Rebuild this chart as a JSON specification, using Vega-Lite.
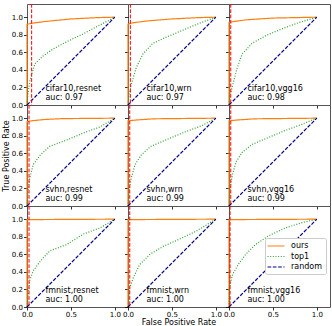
{
"$schema": "https://vega.github.io/schema/vega-lite/v6.json",
"padding": {"left": 1, "top": 3, "right": 1, "bottom": 0},
"bounds": "flush",
"spacing": 0,
"columns": 3,
"datasets": {
"curves": [
{"panel":"cifar10,resnet","series":"ours","fpr":0,"tpr":0},{"panel":"cifar10,resnet","series":"ours","fpr":0,"tpr":0.92},{"panel":"cifar10,resnet","series":"ours","fpr":0.05,"tpr":0.93},{"panel":"cifar10,resnet","series":"ours","fpr":0.2,"tpr":0.95},{"panel":"cifar10,resnet","series":"ours","fpr":0.5,"tpr":0.98},{"panel":"cifar10,resnet","series":"ours","fpr":0.8,"tpr":0.995},{"panel":"cifar10,resnet","series":"ours","fpr":1,"tpr":1},
{"panel":"cifar10,resnet","series":"top1","fpr":0,"tpr":0},{"panel":"cifar10,resnet","series":"top1","fpr":0.01,"tpr":0.12},{"panel":"cifar10,resnet","series":"top1","fpr":0.034,"tpr":0.28},{"panel":"cifar10,resnet","series":"top1","fpr":0.09,"tpr":0.47},{"panel":"cifar10,resnet","series":"top1","fpr":0.185,"tpr":0.56},{"panel":"cifar10,resnet","series":"top1","fpr":0.3,"tpr":0.64},{"panel":"cifar10,resnet","series":"top1","fpr":0.45,"tpr":0.72},{"panel":"cifar10,resnet","series":"top1","fpr":0.64,"tpr":0.81},{"panel":"cifar10,resnet","series":"top1","fpr":0.83,"tpr":0.91},{"panel":"cifar10,resnet","series":"top1","fpr":1,"tpr":1},
{"panel":"cifar10,resnet","series":"random","fpr":0,"tpr":0},{"panel":"cifar10,resnet","series":"random","fpr":1,"tpr":1},

{"panel":"cifar10,wrn","series":"ours","fpr":0,"tpr":0},{"panel":"cifar10,wrn","series":"ours","fpr":0,"tpr":0.92},{"panel":"cifar10,wrn","series":"ours","fpr":0.05,"tpr":0.935},{"panel":"cifar10,wrn","series":"ours","fpr":0.2,"tpr":0.955},{"panel":"cifar10,wrn","series":"ours","fpr":0.5,"tpr":0.98},{"panel":"cifar10,wrn","series":"ours","fpr":0.8,"tpr":0.995},{"panel":"cifar10,wrn","series":"ours","fpr":1,"tpr":1},
{"panel":"cifar10,wrn","series":"top1","fpr":0,"tpr":0},{"panel":"cifar10,wrn","series":"top1","fpr":0.01,"tpr":0.1},{"panel":"cifar10,wrn","series":"top1","fpr":0.04,"tpr":0.24},{"panel":"cifar10,wrn","series":"top1","fpr":0.095,"tpr":0.43},{"panel":"cifar10,wrn","series":"top1","fpr":0.17,"tpr":0.58},{"panel":"cifar10,wrn","series":"top1","fpr":0.28,"tpr":0.7},{"panel":"cifar10,wrn","series":"top1","fpr":0.43,"tpr":0.77},{"panel":"cifar10,wrn","series":"top1","fpr":0.62,"tpr":0.85},{"panel":"cifar10,wrn","series":"top1","fpr":0.81,"tpr":0.93},{"panel":"cifar10,wrn","series":"top1","fpr":1,"tpr":1},
{"panel":"cifar10,wrn","series":"random","fpr":0,"tpr":0},{"panel":"cifar10,wrn","series":"random","fpr":1,"tpr":1},

{"panel":"cifar10,vgg16","series":"ours","fpr":0,"tpr":0},{"panel":"cifar10,vgg16","series":"ours","fpr":0,"tpr":0.94},{"panel":"cifar10,vgg16","series":"ours","fpr":0.05,"tpr":0.95},{"panel":"cifar10,vgg16","series":"ours","fpr":0.2,"tpr":0.97},{"panel":"cifar10,vgg16","series":"ours","fpr":0.5,"tpr":0.99},{"panel":"cifar10,vgg16","series":"ours","fpr":1,"tpr":1},
{"panel":"cifar10,vgg16","series":"top1","fpr":0,"tpr":0},{"panel":"cifar10,vgg16","series":"top1","fpr":0.01,"tpr":0.1},{"panel":"cifar10,vgg16","series":"top1","fpr":0.04,"tpr":0.22},{"panel":"cifar10,vgg16","series":"top1","fpr":0.095,"tpr":0.43},{"panel":"cifar10,vgg16","series":"top1","fpr":0.15,"tpr":0.58},{"panel":"cifar10,vgg16","series":"top1","fpr":0.26,"tpr":0.7},{"panel":"cifar10,vgg16","series":"top1","fpr":0.42,"tpr":0.79},{"panel":"cifar10,vgg16","series":"top1","fpr":0.61,"tpr":0.87},{"panel":"cifar10,vgg16","series":"top1","fpr":0.8,"tpr":0.94},{"panel":"cifar10,vgg16","series":"top1","fpr":1,"tpr":1},
{"panel":"cifar10,vgg16","series":"random","fpr":0,"tpr":0},{"panel":"cifar10,vgg16","series":"random","fpr":1,"tpr":1},

{"panel":"svhn,resnet","series":"ours","fpr":0,"tpr":0},{"panel":"svhn,resnet","series":"ours","fpr":0,"tpr":0.96},{"panel":"svhn,resnet","series":"ours","fpr":0.05,"tpr":0.97},{"panel":"svhn,resnet","series":"ours","fpr":0.2,"tpr":0.985},{"panel":"svhn,resnet","series":"ours","fpr":0.4,"tpr":0.995},{"panel":"svhn,resnet","series":"ours","fpr":1,"tpr":1},
{"panel":"svhn,resnet","series":"top1","fpr":0,"tpr":0},{"panel":"svhn,resnet","series":"top1","fpr":0.015,"tpr":0.2},{"panel":"svhn,resnet","series":"top1","fpr":0.03,"tpr":0.31},{"panel":"svhn,resnet","series":"top1","fpr":0.07,"tpr":0.47},{"panel":"svhn,resnet","series":"top1","fpr":0.15,"tpr":0.58},{"panel":"svhn,resnet","series":"top1","fpr":0.26,"tpr":0.68},{"panel":"svhn,resnet","series":"top1","fpr":0.45,"tpr":0.75},{"panel":"svhn,resnet","series":"top1","fpr":0.64,"tpr":0.83},{"panel":"svhn,resnet","series":"top1","fpr":0.83,"tpr":0.9},{"panel":"svhn,resnet","series":"top1","fpr":1,"tpr":1},
{"panel":"svhn,resnet","series":"random","fpr":0,"tpr":0},{"panel":"svhn,resnet","series":"random","fpr":1,"tpr":1},

{"panel":"svhn,wrn","series":"ours","fpr":0,"tpr":0},{"panel":"svhn,wrn","series":"ours","fpr":0,"tpr":0.97},{"panel":"svhn,wrn","series":"ours","fpr":0.1,"tpr":0.98},{"panel":"svhn,wrn","series":"ours","fpr":0.3,"tpr":0.993},{"panel":"svhn,wrn","series":"ours","fpr":1,"tpr":1},
{"panel":"svhn,wrn","series":"top1","fpr":0,"tpr":0},{"panel":"svhn,wrn","series":"top1","fpr":0.015,"tpr":0.2},{"panel":"svhn,wrn","series":"top1","fpr":0.04,"tpr":0.33},{"panel":"svhn,wrn","series":"top1","fpr":0.08,"tpr":0.47},{"panel":"svhn,wrn","series":"top1","fpr":0.15,"tpr":0.58},{"panel":"svhn,wrn","series":"top1","fpr":0.26,"tpr":0.68},{"panel":"svhn,wrn","series":"top1","fpr":0.45,"tpr":0.76},{"panel":"svhn,wrn","series":"top1","fpr":0.64,"tpr":0.84},{"panel":"svhn,wrn","series":"top1","fpr":0.83,"tpr":0.91},{"panel":"svhn,wrn","series":"top1","fpr":1,"tpr":1},
{"panel":"svhn,wrn","series":"random","fpr":0,"tpr":0},{"panel":"svhn,wrn","series":"random","fpr":1,"tpr":1},

{"panel":"svhn,vgg16","series":"ours","fpr":0,"tpr":0},{"panel":"svhn,vgg16","series":"ours","fpr":0,"tpr":0.97},{"panel":"svhn,vgg16","series":"ours","fpr":0.1,"tpr":0.98},{"panel":"svhn,vgg16","series":"ours","fpr":0.3,"tpr":0.993},{"panel":"svhn,vgg16","series":"ours","fpr":1,"tpr":1},
{"panel":"svhn,vgg16","series":"top1","fpr":0,"tpr":0},{"panel":"svhn,vgg16","series":"top1","fpr":0.015,"tpr":0.22},{"panel":"svhn,vgg16","series":"top1","fpr":0.04,"tpr":0.36},{"panel":"svhn,vgg16","series":"top1","fpr":0.08,"tpr":0.5},{"panel":"svhn,vgg16","series":"top1","fpr":0.15,"tpr":0.61},{"panel":"svhn,vgg16","series":"top1","fpr":0.26,"tpr":0.7},{"panel":"svhn,vgg16","series":"top1","fpr":0.45,"tpr":0.78},{"panel":"svhn,vgg16","series":"top1","fpr":0.64,"tpr":0.86},{"panel":"svhn,vgg16","series":"top1","fpr":0.83,"tpr":0.93},{"panel":"svhn,vgg16","series":"top1","fpr":1,"tpr":1},
{"panel":"svhn,vgg16","series":"random","fpr":0,"tpr":0},{"panel":"svhn,vgg16","series":"random","fpr":1,"tpr":1},

{"panel":"fmnist,resnet","series":"ours","fpr":0,"tpr":0},{"panel":"fmnist,resnet","series":"ours","fpr":0,"tpr":0.995},{"panel":"fmnist,resnet","series":"ours","fpr":1,"tpr":1},
{"panel":"fmnist,resnet","series":"top1","fpr":0,"tpr":0},{"panel":"fmnist,resnet","series":"top1","fpr":0.015,"tpr":0.15},{"panel":"fmnist,resnet","series":"top1","fpr":0.03,"tpr":0.3},{"panel":"fmnist,resnet","series":"top1","fpr":0.07,"tpr":0.41},{"panel":"fmnist,resnet","series":"top1","fpr":0.15,"tpr":0.52},{"panel":"fmnist,resnet","series":"top1","fpr":0.26,"tpr":0.64},{"panel":"fmnist,resnet","series":"top1","fpr":0.45,"tpr":0.71},{"panel":"fmnist,resnet","series":"top1","fpr":0.64,"tpr":0.83},{"panel":"fmnist,resnet","series":"top1","fpr":0.83,"tpr":0.9},{"panel":"fmnist,resnet","series":"top1","fpr":1,"tpr":1},
{"panel":"fmnist,resnet","series":"random","fpr":0,"tpr":0},{"panel":"fmnist,resnet","series":"random","fpr":1,"tpr":1},

{"panel":"fmnist,wrn","series":"ours","fpr":0,"tpr":0},{"panel":"fmnist,wrn","series":"ours","fpr":0,"tpr":0.995},{"panel":"fmnist,wrn","series":"ours","fpr":1,"tpr":1},
{"panel":"fmnist,wrn","series":"top1","fpr":0,"tpr":0},{"panel":"fmnist,wrn","series":"top1","fpr":0.02,"tpr":0.22},{"panel":"fmnist,wrn","series":"top1","fpr":0.06,"tpr":0.33},{"panel":"fmnist,wrn","series":"top1","fpr":0.13,"tpr":0.48},{"panel":"fmnist,wrn","series":"top1","fpr":0.25,"tpr":0.6},{"panel":"fmnist,wrn","series":"top1","fpr":0.4,"tpr":0.69},{"panel":"fmnist,wrn","series":"top1","fpr":0.58,"tpr":0.77},{"panel":"fmnist,wrn","series":"top1","fpr":0.77,"tpr":0.86},{"panel":"fmnist,wrn","series":"top1","fpr":1,"tpr":1},
{"panel":"fmnist,wrn","series":"random","fpr":0,"tpr":0},{"panel":"fmnist,wrn","series":"random","fpr":1,"tpr":1},

{"panel":"fmnist,vgg16","series":"ours","fpr":0,"tpr":0},{"panel":"fmnist,vgg16","series":"ours","fpr":0,"tpr":0.995},{"panel":"fmnist,vgg16","series":"ours","fpr":1,"tpr":1},
{"panel":"fmnist,vgg16","series":"top1","fpr":0,"tpr":0},{"panel":"fmnist,vgg16","series":"top1","fpr":0.005,"tpr":0.22},{"panel":"fmnist,vgg16","series":"top1","fpr":0.04,"tpr":0.37},{"panel":"fmnist,vgg16","series":"top1","fpr":0.11,"tpr":0.49},{"panel":"fmnist,vgg16","series":"top1","fpr":0.19,"tpr":0.6},{"panel":"fmnist,vgg16","series":"top1","fpr":0.3,"tpr":0.71},{"panel":"fmnist,vgg16","series":"top1","fpr":0.45,"tpr":0.81},{"panel":"fmnist,vgg16","series":"top1","fpr":0.64,"tpr":0.9},{"panel":"fmnist,vgg16","series":"top1","fpr":0.83,"tpr":0.96},{"panel":"fmnist,vgg16","series":"top1","fpr":1,"tpr":1},
{"panel":"fmnist,vgg16","series":"random","fpr":0,"tpr":0},{"panel":"fmnist,vgg16","series":"random","fpr":1,"tpr":1}
],
"info": [
{"panel":"cifar10,resnet","auc":"auc: 0.97","thr":0.053},
{"panel":"cifar10,wrn","auc":"auc: 0.97","thr":0.027},
{"panel":"cifar10,vgg16","auc":"auc: 0.98","thr":0.02},
{"panel":"svhn,resnet","auc":"auc: 0.99","thr":0.023},
{"panel":"svhn,wrn","auc":"auc: 0.99","thr":0.02},
{"panel":"svhn,vgg16","auc":"auc: 0.99","thr":0.02},
{"panel":"fmnist,resnet","auc":"auc: 1.00","thr":0.023},
{"panel":"fmnist,wrn","auc":"auc: 1.00","thr":0.02},
{"panel":"fmnist,vgg16","auc":"auc: 1.00","thr":0.012}
]
},
"concat": [
{"width":101,"height":101,"layer":[
{"data":{"name":"curves"},"transform":[{"filter":"datum.panel==='cifar10,resnet'"}],"mark":{"type":"line","strokeWidth":1.2},"encoding":{"x":{"field":"fpr","type":"quantitative","scale":{"domain":[0,1.15],"nice":false},"axis":{"values":[0,0.5,1],"labels":false,"title":null}},"y":{"field":"tpr","type":"quantitative","scale":{"domain":[0,1.15],"nice":false},"axis":{"values":[0,0.2,0.4,0.6,0.8,1],"format":".1f","title":null}},"color":{"field":"series","type":"nominal","scale":{"domain":["ours","top1","random"],"range":["#ff7f0e","#2ca02c","#00008b"]},"legend":null},"strokeDash":{"field":"series","type":"nominal","scale":{"domain":["ours","top1","random"],"range":[[1,0],[1,1.65],[3.7,1.6]]},"legend":null}}},
{"data":{"name":"info"},"transform":[{"filter":"datum.panel==='cifar10,resnet'"}],"mark":{"type":"rule","color":"red","strokeDash":[3.7,1.6],"strokeWidth":1},"encoding":{"x":{"field":"thr","type":"quantitative"}}},
{"data":{"name":"info"},"transform":[{"filter":"datum.panel==='cifar10,resnet'"}],"mark":{"type":"text","align":"left","baseline":"middle"},"encoding":{"x":{"datum":0.21},"y":{"datum":0.18},"text":{"field":"panel"}}},
{"data":{"name":"info"},"transform":[{"filter":"datum.panel==='cifar10,resnet'"}],"mark":{"type":"text","align":"left","baseline":"middle"},"encoding":{"x":{"datum":0.21},"y":{"datum":0.075},"text":{"field":"auc"}}}
]},
{"width":101,"height":101,"layer":[
{"data":{"name":"curves"},"transform":[{"filter":"datum.panel==='cifar10,wrn'"}],"mark":{"type":"line","strokeWidth":1.2},"encoding":{"x":{"field":"fpr","type":"quantitative","scale":{"domain":[0,1.15],"nice":false},"axis":{"values":[0,0.5,1],"labels":false,"title":null}},"y":{"field":"tpr","type":"quantitative","scale":{"domain":[0,1.15],"nice":false},"axis":{"values":[0,0.2,0.4,0.6,0.8,1],"labels":false,"title":null}},"color":{"field":"series","type":"nominal","scale":{"domain":["ours","top1","random"],"range":["#ff7f0e","#2ca02c","#00008b"]},"legend":null},"strokeDash":{"field":"series","type":"nominal","scale":{"domain":["ours","top1","random"],"range":[[1,0],[1,1.65],[3.7,1.6]]},"legend":null}}},
{"data":{"name":"info"},"transform":[{"filter":"datum.panel==='cifar10,wrn'"}],"mark":{"type":"rule","color":"red","strokeDash":[3.7,1.6],"strokeWidth":1},"encoding":{"x":{"field":"thr","type":"quantitative"}}},
{"data":{"name":"info"},"transform":[{"filter":"datum.panel==='cifar10,wrn'"}],"mark":{"type":"text","align":"left","baseline":"middle"},"encoding":{"x":{"datum":0.21},"y":{"datum":0.18},"text":{"field":"panel"}}},
{"data":{"name":"info"},"transform":[{"filter":"datum.panel==='cifar10,wrn'"}],"mark":{"type":"text","align":"left","baseline":"middle"},"encoding":{"x":{"datum":0.21},"y":{"datum":0.075},"text":{"field":"auc"}}}
]},
{"width":101,"height":101,"layer":[
{"data":{"name":"curves"},"transform":[{"filter":"datum.panel==='cifar10,vgg16'"}],"mark":{"type":"line","strokeWidth":1.2},"encoding":{"x":{"field":"fpr","type":"quantitative","scale":{"domain":[0,1.15],"nice":false},"axis":{"values":[0,0.5,1],"labels":false,"title":null}},"y":{"field":"tpr","type":"quantitative","scale":{"domain":[0,1.15],"nice":false},"axis":{"values":[0,0.2,0.4,0.6,0.8,1],"labels":false,"title":null}},"color":{"field":"series","type":"nominal","scale":{"domain":["ours","top1","random"],"range":["#ff7f0e","#2ca02c","#00008b"]},"legend":null},"strokeDash":{"field":"series","type":"nominal","scale":{"domain":["ours","top1","random"],"range":[[1,0],[1,1.65],[3.7,1.6]]},"legend":null}}},
{"data":{"name":"info"},"transform":[{"filter":"datum.panel==='cifar10,vgg16'"}],"mark":{"type":"rule","color":"red","strokeDash":[3.7,1.6],"strokeWidth":1},"encoding":{"x":{"field":"thr","type":"quantitative"}}},
{"data":{"name":"info"},"transform":[{"filter":"datum.panel==='cifar10,vgg16'"}],"mark":{"type":"text","align":"left","baseline":"middle"},"encoding":{"x":{"datum":0.21},"y":{"datum":0.18},"text":{"field":"panel"}}},
{"data":{"name":"info"},"transform":[{"filter":"datum.panel==='cifar10,vgg16'"}],"mark":{"type":"text","align":"left","baseline":"middle"},"encoding":{"x":{"datum":0.21},"y":{"datum":0.075},"text":{"field":"auc"}}}
]},
{"width":101,"height":101,"layer":[
{"data":{"name":"curves"},"transform":[{"filter":"datum.panel==='svhn,resnet'"}],"mark":{"type":"line","strokeWidth":1.2},"encoding":{"x":{"field":"fpr","type":"quantitative","scale":{"domain":[0,1.15],"nice":false},"axis":{"values":[0,0.5,1],"labels":false,"title":null}},"y":{"field":"tpr","type":"quantitative","scale":{"domain":[0,1.15],"nice":false},"axis":{"values":[0,0.2,0.4,0.6,0.8,1],"format":".1f","title":"True Positive Rate"}},"color":{"field":"series","type":"nominal","scale":{"domain":["ours","top1","random"],"range":["#ff7f0e","#2ca02c","#00008b"]},"legend":null},"strokeDash":{"field":"series","type":"nominal","scale":{"domain":["ours","top1","random"],"range":[[1,0],[1,1.65],[3.7,1.6]]},"legend":null}}},
{"data":{"name":"info"},"transform":[{"filter":"datum.panel==='svhn,resnet'"}],"mark":{"type":"rule","color":"red","strokeDash":[3.7,1.6],"strokeWidth":1},"encoding":{"x":{"field":"thr","type":"quantitative"}}},
{"data":{"name":"info"},"transform":[{"filter":"datum.panel==='svhn,resnet'"}],"mark":{"type":"text","align":"left","baseline":"middle"},"encoding":{"x":{"datum":0.21},"y":{"datum":0.18},"text":{"field":"panel"}}},
{"data":{"name":"info"},"transform":[{"filter":"datum.panel==='svhn,resnet'"}],"mark":{"type":"text","align":"left","baseline":"middle"},"encoding":{"x":{"datum":0.21},"y":{"datum":0.075},"text":{"field":"auc"}}}
]},
{"width":101,"height":101,"layer":[
{"data":{"name":"curves"},"transform":[{"filter":"datum.panel==='svhn,wrn'"}],"mark":{"type":"line","strokeWidth":1.2},"encoding":{"x":{"field":"fpr","type":"quantitative","scale":{"domain":[0,1.15],"nice":false},"axis":{"values":[0,0.5,1],"labels":false,"title":null}},"y":{"field":"tpr","type":"quantitative","scale":{"domain":[0,1.15],"nice":false},"axis":{"values":[0,0.2,0.4,0.6,0.8,1],"labels":false,"title":null}},"color":{"field":"series","type":"nominal","scale":{"domain":["ours","top1","random"],"range":["#ff7f0e","#2ca02c","#00008b"]},"legend":null},"strokeDash":{"field":"series","type":"nominal","scale":{"domain":["ours","top1","random"],"range":[[1,0],[1,1.65],[3.7,1.6]]},"legend":null}}},
{"data":{"name":"info"},"transform":[{"filter":"datum.panel==='svhn,wrn'"}],"mark":{"type":"rule","color":"red","strokeDash":[3.7,1.6],"strokeWidth":1},"encoding":{"x":{"field":"thr","type":"quantitative"}}},
{"data":{"name":"info"},"transform":[{"filter":"datum.panel==='svhn,wrn'"}],"mark":{"type":"text","align":"left","baseline":"middle"},"encoding":{"x":{"datum":0.21},"y":{"datum":0.18},"text":{"field":"panel"}}},
{"data":{"name":"info"},"transform":[{"filter":"datum.panel==='svhn,wrn'"}],"mark":{"type":"text","align":"left","baseline":"middle"},"encoding":{"x":{"datum":0.21},"y":{"datum":0.075},"text":{"field":"auc"}}}
]},
{"width":101,"height":101,"layer":[
{"data":{"name":"curves"},"transform":[{"filter":"datum.panel==='svhn,vgg16'"}],"mark":{"type":"line","strokeWidth":1.2},"encoding":{"x":{"field":"fpr","type":"quantitative","scale":{"domain":[0,1.15],"nice":false},"axis":{"values":[0,0.5,1],"labels":false,"title":null}},"y":{"field":"tpr","type":"quantitative","scale":{"domain":[0,1.15],"nice":false},"axis":{"values":[0,0.2,0.4,0.6,0.8,1],"labels":false,"title":null}},"color":{"field":"series","type":"nominal","scale":{"domain":["ours","top1","random"],"range":["#ff7f0e","#2ca02c","#00008b"]},"legend":null},"strokeDash":{"field":"series","type":"nominal","scale":{"domain":["ours","top1","random"],"range":[[1,0],[1,1.65],[3.7,1.6]]},"legend":null}}},
{"data":{"name":"info"},"transform":[{"filter":"datum.panel==='svhn,vgg16'"}],"mark":{"type":"rule","color":"red","strokeDash":[3.7,1.6],"strokeWidth":1},"encoding":{"x":{"field":"thr","type":"quantitative"}}},
{"data":{"name":"info"},"transform":[{"filter":"datum.panel==='svhn,vgg16'"}],"mark":{"type":"text","align":"left","baseline":"middle"},"encoding":{"x":{"datum":0.21},"y":{"datum":0.18},"text":{"field":"panel"}}},
{"data":{"name":"info"},"transform":[{"filter":"datum.panel==='svhn,vgg16'"}],"mark":{"type":"text","align":"left","baseline":"middle"},"encoding":{"x":{"datum":0.21},"y":{"datum":0.075},"text":{"field":"auc"}}}
]},
{"width":101,"height":101,"layer":[
{"data":{"name":"curves"},"transform":[{"filter":"datum.panel==='fmnist,resnet'"}],"mark":{"type":"line","strokeWidth":1.2},"encoding":{"x":{"field":"fpr","type":"quantitative","scale":{"domain":[0,1.15],"nice":false},"axis":{"values":[0,0.5,1],"format":".1f","title":null}},"y":{"field":"tpr","type":"quantitative","scale":{"domain":[0,1.15],"nice":false},"axis":{"values":[0,0.2,0.4,0.6,0.8,1],"format":".1f","title":null}},"color":{"field":"series","type":"nominal","scale":{"domain":["ours","top1","random"],"range":["#ff7f0e","#2ca02c","#00008b"]},"legend":null},"strokeDash":{"field":"series","type":"nominal","scale":{"domain":["ours","top1","random"],"range":[[1,0],[1,1.65],[3.7,1.6]]},"legend":null}}},
{"data":{"name":"info"},"transform":[{"filter":"datum.panel==='fmnist,resnet'"}],"mark":{"type":"rule","color":"red","strokeDash":[3.7,1.6],"strokeWidth":1},"encoding":{"x":{"field":"thr","type":"quantitative"}}},
{"data":{"name":"info"},"transform":[{"filter":"datum.panel==='fmnist,resnet'"}],"mark":{"type":"text","align":"left","baseline":"middle"},"encoding":{"x":{"datum":0.21},"y":{"datum":0.18},"text":{"field":"panel"}}},
{"data":{"name":"info"},"transform":[{"filter":"datum.panel==='fmnist,resnet'"}],"mark":{"type":"text","align":"left","baseline":"middle"},"encoding":{"x":{"datum":0.21},"y":{"datum":0.075},"text":{"field":"auc"}}}
]},
{"width":101,"height":101,"layer":[
{"data":{"name":"curves"},"transform":[{"filter":"datum.panel==='fmnist,wrn'"}],"mark":{"type":"line","strokeWidth":1.2},"encoding":{"x":{"field":"fpr","type":"quantitative","scale":{"domain":[0,1.15],"nice":false},"axis":{"values":[0,0.5,1],"format":".1f","title":"False Positive Rate"}},"y":{"field":"tpr","type":"quantitative","scale":{"domain":[0,1.15],"nice":false},"axis":{"values":[0,0.2,0.4,0.6,0.8,1],"labels":false,"title":null}},"color":{"field":"series","type":"nominal","scale":{"domain":["ours","top1","random"],"range":["#ff7f0e","#2ca02c","#00008b"]},"legend":null},"strokeDash":{"field":"series","type":"nominal","scale":{"domain":["ours","top1","random"],"range":[[1,0],[1,1.65],[3.7,1.6]]},"legend":null}}},
{"data":{"name":"info"},"transform":[{"filter":"datum.panel==='fmnist,wrn'"}],"mark":{"type":"rule","color":"red","strokeDash":[3.7,1.6],"strokeWidth":1},"encoding":{"x":{"field":"thr","type":"quantitative"}}},
{"data":{"name":"info"},"transform":[{"filter":"datum.panel==='fmnist,wrn'"}],"mark":{"type":"text","align":"left","baseline":"middle"},"encoding":{"x":{"datum":0.21},"y":{"datum":0.18},"text":{"field":"panel"}}},
{"data":{"name":"info"},"transform":[{"filter":"datum.panel==='fmnist,wrn'"}],"mark":{"type":"text","align":"left","baseline":"middle"},"encoding":{"x":{"datum":0.21},"y":{"datum":0.075},"text":{"field":"auc"}}}
]},
{"width":101,"height":101,"layer":[
{"data":{"name":"curves"},"transform":[{"filter":"datum.panel==='fmnist,vgg16'"}],"mark":{"type":"line","strokeWidth":1.2},"encoding":{"x":{"field":"fpr","type":"quantitative","scale":{"domain":[0,1.15],"nice":false},"axis":{"values":[0,0.5,1],"format":".1f","title":null}},"y":{"field":"tpr","type":"quantitative","scale":{"domain":[0,1.15],"nice":false},"axis":{"values":[0,0.2,0.4,0.6,0.8,1],"labels":false,"title":null}},"color":{"field":"series","type":"nominal","scale":{"domain":["ours","top1","random"],"range":["#ff7f0e","#2ca02c","#00008b"]},"legend":{"orient":"none","legendX":36,"legendY":32,"title":null,"symbolType":"M-2,0H2","symbolSize":72,"symbolOffset":3,"symbolStrokeWidth":1.2,"labelFontSize":8,"labelFont":"DejaVu Sans","labelColor":"black","labelOffset":10,"rowPadding":1.5,"padding":3,"strokeColor":"#cccccc","fillColor":"white","cornerRadius":2}},"strokeDash":{"field":"series","type":"nominal","scale":{"domain":["ours","top1","random"],"range":[[1,0],[1,1.65],[3.7,1.6]]},"legend":{"orient":"none","legendX":36,"legendY":32,"title":null,"symbolType":"M-2,0H2","symbolSize":72,"symbolOffset":3,"symbolStrokeWidth":1.2,"labelFontSize":8,"labelFont":"DejaVu Sans","labelColor":"black","labelOffset":10,"rowPadding":1.5,"padding":3,"strokeColor":"#cccccc","fillColor":"white","cornerRadius":2}}}},
{"data":{"name":"info"},"transform":[{"filter":"datum.panel==='fmnist,vgg16'"}],"mark":{"type":"rule","color":"red","strokeDash":[3.7,1.6],"strokeWidth":1},"encoding":{"x":{"field":"thr","type":"quantitative"}}},
{"data":{"name":"info"},"transform":[{"filter":"datum.panel==='fmnist,vgg16'"}],"mark":{"type":"text","align":"left","baseline":"middle"},"encoding":{"x":{"datum":0.21},"y":{"datum":0.18},"text":{"field":"panel"}}},
{"data":{"name":"info"},"transform":[{"filter":"datum.panel==='fmnist,vgg16'"}],"mark":{"type":"text","align":"left","baseline":"middle"},"encoding":{"x":{"datum":0.21},"y":{"datum":0.075},"text":{"field":"auc"}}}
]}
],
"resolve": {"scale": {"color": "independent", "strokeDash": "independent"}, "legend": {"color": "independent", "strokeDash": "independent"}},
"config": {
"view": {"stroke": "#555555", "strokeWidth": 1},
"axis": {"domain": false, "grid": false, "tickCount": 20, "tickWidth": 0.8, "tickColor": "black", "labelColor": "black", "labelFont": "DejaVu Sans", "labelFontSize": 7, "labelFlush": false, "labelOverlap": false, "titleFont": "DejaVu Sans", "titleFontSize": 8, "titleFontWeight": "normal", "titleColor": "black"},
"axisX": {"tickSize": 3, "labelPadding": 0, "titlePadding": 1.5},
"axisY": {"tickSize": 3.5, "labelPadding": 1, "titlePadding": 1},
"text": {"font": "DejaVu Sans", "fontSize": 8, "color": "black"}
}
}
